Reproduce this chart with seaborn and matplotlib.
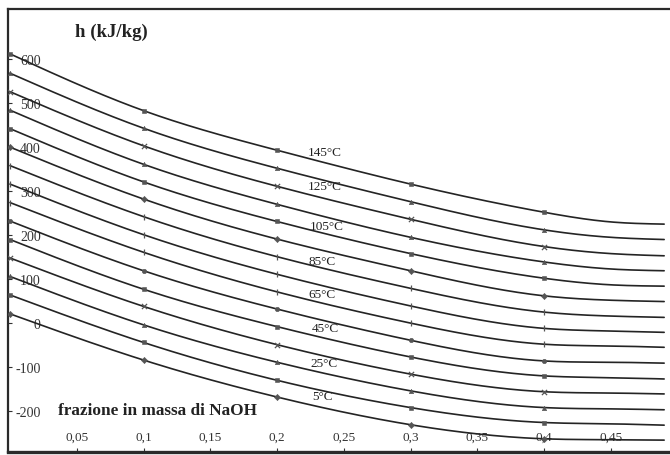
import numpy as np
import pandas as pd
import matplotlib
matplotlib.use("Agg")
import matplotlib.pyplot as plt
import seaborn as sns

# ---- data ----
x_frac = [0.0, 0.1, 0.2, 0.3, 0.4, 0.45, 0.49]
temps = [145, 135, 125, 115, 105, 95, 85, 75, 65, 55, 45, 35, 25, 15, 5]
h_145 = [612, 483, 393, 316, 252, 230, 225]
h_135 = [568, 443, 352, 276, 212, 195, 190]
h_125 = [526, 403, 311, 236, 174, 158, 153]
h_115 = [484, 361, 270, 195, 139, 123, 119]
h_105 = [442, 321, 231, 158, 102, 87, 84]
h_95 = [400, 282, 191, 119, 62, 52, 49]
h_85 = [358, 242, 151, 79, 25, 16, 13]
h_75 = [316, 201, 111, 39, -12, -18, -21]
h_65 = [274, 161, 71, 0, -48, -52, -55]
h_55 = [232, 119, 32, -39, -86, -89, -91]
h_45 = [190, 77, -8, -77, -120, -124, -127]
h_35 = [148, 38, -49, -116, -156, -159, -161]
h_25 = [106, -4, -89, -154, -192, -195, -197]
h_15 = [64, -44, -130, -192, -226, -229, -232]
h_5 = [21, -84, -168, -231, -263, -265, -266]
labelled_temps = [145, 125, 105, 85, 65, 45, 25, 5]
x_ticks = [0.05, 0.1, 0.15, 0.2, 0.25, 0.3, 0.35, 0.4, 0.45]
x_tick_labels = ["0,05", "0,1", "0,15", "0,2", "0,25", "0,3", "0,35", "0,4", "0,45"]
y_ticks = [-200, -100, 0, 100, 200, 300, 400, 500, 600]
y_tick_labels = ["-200", "-100", "0", "100", "200", "300", "400", "500", "600"]
y_title = "h (kJ/kg)"
x_title = "frazione in massa di NaOH"

series = dict(zip(temps, [h_145, h_135, h_125, h_115, h_105, h_95, h_85, h_75,
                          h_65, h_55, h_45, h_35, h_25, h_15, h_5]))

# ---- styling ----
sns.set_theme(style="white")
plt.rcParams["font.family"] = ["Liberation Serif", "DejaVu Serif"]
LINE = "#242424"
MARK = "#555555"
marker_of = {145: "s", 135: "^", 125: "x", 115: "^", 105: "s", 95: "D", 85: "|",
             75: "|", 65: "|", 55: "o", 45: "s", 35: "x", 25: "^", 15: "s", 5: "D"}
label_pos = {145: (0.236, 389), 125: (0.236, 311), 105: (0.237, 220), 85: (0.234, 141),
             65: (0.234, 66), 45: (0.236, -11), 25: (0.235, -91), 5: (0.234, -166)}


def smooth_curve(x, y, n=300):
    """Smoothed line rendering: natural cubic spline through the read points."""
    x = np.asarray(x, float)
    y = np.asarray(y, float)
    k = len(x)
    d = np.diff(x)
    A = np.zeros((k, k))
    r = np.zeros(k)
    A[0, 0] = A[-1, -1] = 1.0
    for i in range(1, k - 1):
        A[i, i - 1] = d[i - 1]
        A[i, i] = 2 * (d[i - 1] + d[i])
        A[i, i + 1] = d[i]
        r[i] = 6 * ((y[i + 1] - y[i]) / d[i] - (y[i] - y[i - 1]) / d[i - 1])
    M = np.linalg.solve(A, r)
    xs = np.linspace(x[0], x[-1], n)
    idx = np.clip(np.searchsorted(x, xs) - 1, 0, k - 2)
    x0, x1 = x[idx], x[idx + 1]
    h = x1 - x0
    a = (x1 - xs) / h
    b = (xs - x0) / h
    ys = (a * y[idx] + b * y[idx + 1]
          + ((a**3 - a) * M[idx] + (b**3 - b) * M[idx + 1]) * h**2 / 6)
    return xs, ys


fig = plt.figure(figsize=(6.70, 4.56), dpi=100)
W, H = 670, 456
ax = fig.add_axes([8 / W, 3 / H, 669.5 / W, 443 / H])

for T, h in series.items():
    xs, ys = smooth_curve(x_frac, h)
    sns.lineplot(x=xs, y=ys, ax=ax, color=LINE, linewidth=1.2, sort=False,
                 estimator=None, legend=False)
    mk = marker_of[T]
    filled = mk in ("s", "^", "D", "o")
    sns.scatterplot(x=x_frac[:5], y=h[:5], ax=ax, marker=mk,
                    s=10 if filled else 14, color=MARK,
                    edgecolor=MARK if filled else None,
                    linewidth=0.4 if filled else 0.9, legend=False, zorder=3)

for T in labelled_temps:
    px, py = label_pos[T]
    ax.text(px, py, f"{T}°C", fontsize=9.5, ha="center", va="center", color="#222222")

ax.set_xlim(-0.0015, 0.5)
ax.set_ylim(-293, 714)
ax.set_xticks(x_ticks)
ax.set_xticklabels(x_tick_labels)
ax.set_yticks(y_ticks)
ax.set_yticklabels(y_tick_labels)
ax.tick_params(axis="x", direction="in", length=3, width=0.8, pad=-15,
               labelsize=9.5, colors="#333333", bottom=True)
ax.tick_params(axis="y", direction="in", length=3, width=0.8, pad=-23.5,
               labelsize=10, colors="#333333", left=True)
for lab in ax.get_yticklabels():
    lab.set_horizontalalignment("right")

for side in ("left", "top", "bottom", "right"):
    ax.spines[side].set_visible(True)
    ax.spines[side].set_color("#2a2a2a")
    ax.spines[side].set_linewidth(1.6)
ax.spines["bottom"].set_linewidth(2.4)

ax.text(0.100, 0.968, y_title, transform=ax.transAxes, fontsize=13.5,
        fontweight="bold", ha="left", va="top", color="#222222")
ax.text(0.0747, 0.095, x_title, transform=ax.transAxes, fontsize=12.4,
        fontweight="bold", ha="left", va="center", color="#222222")
ax.set_xlabel("")
ax.set_ylabel("")

fig.savefig("out.png", dpi=100)
